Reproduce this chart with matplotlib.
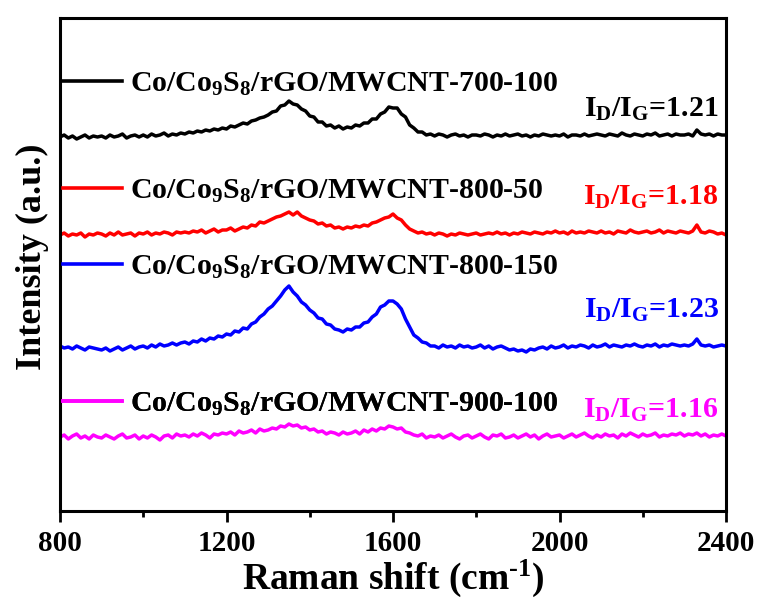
import numpy as np
import matplotlib
matplotlib.use("Agg")
import matplotlib.pyplot as plt
from matplotlib.lines import Line2D

plt.rcParams['font.family'] = ['Liberation Serif', 'DejaVu Serif']
plt.rcParams['font.weight'] = 'bold'
plt.rcParams['mathtext.fontset'] = 'custom'
plt.rcParams['mathtext.rm'] = 'Liberation Serif:bold'
plt.rcParams['mathtext.it'] = 'Liberation Serif:bold'
plt.rcParams['mathtext.bf'] = 'Liberation Serif:bold'

# Raman shift grid (cm^-1)
raman_shift = np.arange(800, 2401, 10)

# Intensities (a.u.)
s700_100 = [
    0, 2, -1, 1, -2, 0, 2, -1, 1, 0,
    1, -1, 2, 0, 1, 3, -1, 1, 2, 0,
    2, 0, 3, 1, 2, 4, 1, 3, 2, 4,
    3, 5, 4, 6, 5, 7, 6, 8, 7, 9,
    8, 11, 10, 12, 14, 13, 16, 17, 19, 20,
    22, 25, 26, 31, 32, 36, 33, 32, 28, 26,
    21, 20, 15, 15, 11, 12, 9, 11, 8, 10,
    9, 12, 11, 14, 14, 18, 18, 23, 25, 30,
    29, 29, 23, 20, 12, 9, 5, 5, 2, 3,
    1, 3, 2, 0, 2, 3, 1, 2, 0, 2,
    2, 1, 3, 2, 0, 2, 1, 3, 1, 2,
    3, 1, 2, 0, 2, 1, 3, 2, 1, 2,
    1, 3, 0, 2, 2, 1, 3, 1, 2, 3,
    2, 1, 3, 2, 1, 4, 2, 1, 3, 2,
    1, 3, 2, 4, 1, 2, 3, 1, 3, 2,
    2, 3, 1, 7, 3, 2, 3, 1, 3, 2,
    2]
s800_50 = [
    0, 2, -1, 1, 0, 2, -2, 1, 0, 2,
    1, -1, 2, 0, 3, 0, 1, 2, -1, 2,
    1, 3, 0, 2, 1, 3, 2, 0, 3, 2,
    3, 2, 4, 3, 5, 2, 4, 6, 3, 5,
    5, 7, 4, 6, 8, 7, 10, 9, 13, 12,
    14, 16, 18, 19, 21, 23, 20, 23, 19, 17,
    15, 14, 11, 12, 9, 10, 7, 8, 6, 8,
    7, 9, 8, 10, 9, 12, 13, 15, 17, 18,
    21, 17, 15, 10, 6, 4, 2, 3, 1, 2,
    0, 2, 1, -1, 1, 0, 2, 1, 0, 1,
    2, 0, 1, 2, 1, 3, 1, 2, 0, 2,
    1, 3, 2, 1, 3, 2, 1, 3, 2, 4,
    2, 3, 1, 4, 2, 3, 2, 4, 3, 2,
    4, 2, 3, 1, 4, 3, 2, 5, 3, 2,
    3, 4, 2, 3, 5, 2, 4, 3, 2, 4,
    3, 2, 4, 10, 3, 2, 4, 3, 1, 2,
    0]
s800_150 = [
    1, -1, 0, -2, 1, -1, -3, 0, -1, -2,
    -3, -1, -4, -2, 0, -3, -1, 1, -2, 0,
    1, -1, 2, 0, 3, 1, 2, 4, 2, 4,
    5, 3, 6, 5, 8, 6, 9, 8, 11, 10,
    13, 12, 16, 15, 19, 18, 23, 25, 30, 33,
    38, 41, 46, 51, 57, 61, 55, 51, 45, 42,
    37, 34, 29, 28, 23, 22, 18, 17, 15, 18,
    17, 20, 20, 24, 25, 30, 33, 40, 42, 46,
    46, 43, 38, 28, 20, 12, 9, 5, 4, 1,
    1, -1, 2, 0, 1, -1, 2, 0, 1, -1,
    0, 2, -1, 1, -2, 0, 1, -1, -3, -2,
    -4, -3, -5, -2, -3, -1, 0, -2, 1, -1,
    0, 2, -1, 1, 0, 2, 1, -1, 2, 0,
    1, 3, 0, 2, 1, 0, 2, 1, 3, 1,
    0, 2, 1, 3, 0, 2, 1, 3, 2, 1,
    2, 1, 3, 8, 2, 1, 2, 0, 1, 2,
    1]
s900_100 = [
    0, 2, -2, 1, 3, -1, 1, -2, 2, 0,
    -1, 2, 0, -2, 1, 3, -1, 0, 2, -2,
    1, -1, 2, 0, -3, 1, 2, -1, 3, 1,
    2, 0, 3, 1, 4, 2, -1, 3, 2, 4,
    3, 5, 2, 6, 4, 5, 7, 4, 8, 6,
    7, 9, 8, 11, 10, 13, 11, 12, 9, 10,
    7, 8, 5, 6, 3, 5, 4, 2, 5, 3,
    4, 6, 3, 7, 5, 8, 6, 9, 8, 11,
    10, 8, 9, 5, 4, 2, 1, 3, -1, 1,
    0, 2, -1, 1, 3, 0, -2, 1, 2, -1,
    1, 3, 0, -2, 2, 1, 3, -1, 0, 2,
    -1, 1, 3, 0, 2, -2, 1, 3, 0, 1,
    2, -1, 1, 3, 0, 2, 4, 1, -1, 2,
    0, 3, 1, 2, -1, 3, 1, 4, 2, 0,
    3, 1, 2, 4, 0, 2, 1, 3, 2, 4,
    1, 3, 2, 4, 1, 3, 0, 2, 1, 3,
    1]

series = [s700_100, s800_50, s800_150, s900_100]
names = ['Co/Co$_9$S$_8$/rGO/MWCNT-700-100',
         'Co/Co$_9$S$_8$/rGO/MWCNT-800-50',
         'Co/Co$_9$S$_8$/rGO/MWCNT-800-150',
         'Co/Co$_9$S$_8$/rGO/MWCNT-900-100']
ratios = ['1.21', '1.18', '1.23', '1.16']
colors = ['black', '#ff0000', '#0000ff', '#ff00ff']
offsets = [374, 276, 164, 74]
legend_y = [0.866, 0.648, 0.495, 0.217]
ratio_y = [0.800, 0.622, 0.391, 0.190]

fig = plt.figure(figsize=(7.61, 6.02), dpi=100)
ax = fig.add_axes([60/761, 91/602, 666/761, 493/602])

for vals, off, c in zip(series, offsets, colors):
    ax.plot(raman_shift, np.array(vals) + off, color=c, lw=2.5)

ax.set_xlim(800, 2400)
ax.set_ylim(0, 493)

for i, (name, c) in enumerate(zip(names, colors)):
    h = Line2D([], [], color=c, lw=2.6)
    leg = ax.legend([h], [name], loc='center left',
                    bbox_to_anchor=(0.005, legend_y[i]),
                    borderaxespad=0, borderpad=0,
                    frameon=False, handlelength=1.95, handletextpad=0.27,
                    prop={'family': 'Liberation Serif', 'weight': 'bold', 'size': 21.5})
    ax.add_artist(leg)

for i, (r, c) in enumerate(zip(ratios, colors)):
    ax.text(0.989, ratio_y[i], 'I$_D$/I$_G$=' + r, transform=ax.transAxes,
            ha='right', va='baseline', color=c, fontsize=21.5,
            fontweight='bold')

ax.set_xticks([800, 1200, 1600, 2000, 2400])
ax.set_xticks([1000, 1400, 1800, 2200], minor=True)
ax.set_yticks([])
ax.tick_params(axis='x', which='major', direction='out', length=8, width=2,
               labelsize=21, pad=6)
ax.tick_params(axis='x', which='minor', direction='out', length=4, width=2)
for lab in ax.get_xticklabels():
    lab.set_fontweight('bold')
for sp in ax.spines.values():
    sp.set_linewidth(2.2)

ax.set_xlabel(r'Raman shift (cm$^{\text{-}1}$)', fontsize=27, fontweight='bold', labelpad=0)
ax.set_ylabel('Intensity (a.u.)', fontsize=26, fontweight='bold')
ax.yaxis.set_label_coords(-0.017, 0.515)

fig.savefig('out.png', dpi=100)
